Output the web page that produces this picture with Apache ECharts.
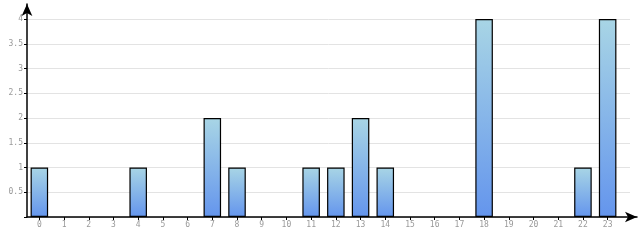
<!DOCTYPE html>
<html><head><meta charset="utf-8">
<script src="https://cdn.jsdelivr.net/npm/echarts@6/dist/echarts.min.js"></script>
<style>html,body{margin:0;padding:0;background:#fff}#c{width:640px;height:240px}</style>
</head><body><div id="c"></div>
<script>
const categories = ['0','1','2','3','4','5','6','7','8','9','10','11','12','13','14','15','16','17','18','19','20','21','22','23'];
const values = [1,0,0,0,1,0,0,2,1,0,0,1,1,2,1,0,0,0,4,0,0,0,1,4];
const yMin = 0, yMax = 4, yStep = 0.5;

const lab = {color:'#999', fontFamily:'DejaVu Sans Mono', fontSize:8};
const chart = echarts.init(document.getElementById('c'), null, {renderer:'canvas'});
chart.setOption({
  animation:false,
  grid:[
    {left:27, right:20, top:19, bottom:23},
    {left:27, right:10, top:19, bottom:23},
    {left:27, right:3, top:4, bottom:23}
  ],
  xAxis:[
    {type:'category', gridIndex:0, data:categories,
     axisLine:{show:false},
     axisTick:{show:true, alignWithLabel:true, length:3, lineStyle:{color:'#000', width:1}},
     axisLabel:Object.assign({margin:4}, lab)},
    {type:'value', gridIndex:1, show:false},
    {type:'value', gridIndex:2, min:0, max:1,
     axisLine:{show:true, symbol:['none','arrow'], symbolSize:[8,12], lineStyle:{color:'#000', width:1.5}},
     axisTick:{show:false}, axisLabel:{show:false}, splitLine:{show:false}}
  ],
  yAxis:[
    {type:'value', gridIndex:0, min:yMin, max:yMax, interval:yStep,
     axisLine:{show:false},
     axisTick:{show:true, length:3, lineStyle:{color:'#000', width:1}},
     splitLine:{show:false},
     axisLabel:Object.assign({margin:4, formatter:v => v===0 ? '' : String(v)}, lab)},
    {type:'value', gridIndex:1, min:yMin, max:yMax, interval:yStep,
     axisLine:{show:false}, axisTick:{show:false}, axisLabel:{show:false},
     splitLine:{show:true, lineStyle:{color:'#e3e3e3', width:1}}},
    {type:'value', gridIndex:2, min:0, max:1,
     axisLine:{show:true, symbol:['none','arrow'], symbolSize:[8,12], lineStyle:{color:'#000', width:1.5}},
     axisTick:{show:false}, axisLabel:{show:false}, splitLine:{show:false}}
  ],
  series:[{
    type:'bar', xAxisIndex:0, yAxisIndex:0, barWidth:'71%',
    data:values.map(v => ({value:v, itemStyle:{borderWidth: v ? 1.2 : 0}})),
    itemStyle:{
      color:new echarts.graphic.LinearGradient(0,0,0,1,[{offset:0,color:'#a8d5e5'},{offset:1,color:'#6495ed'}]),
      borderColor:'#000', borderWidth:1.2
    }
  }]
});
</script></body></html>
